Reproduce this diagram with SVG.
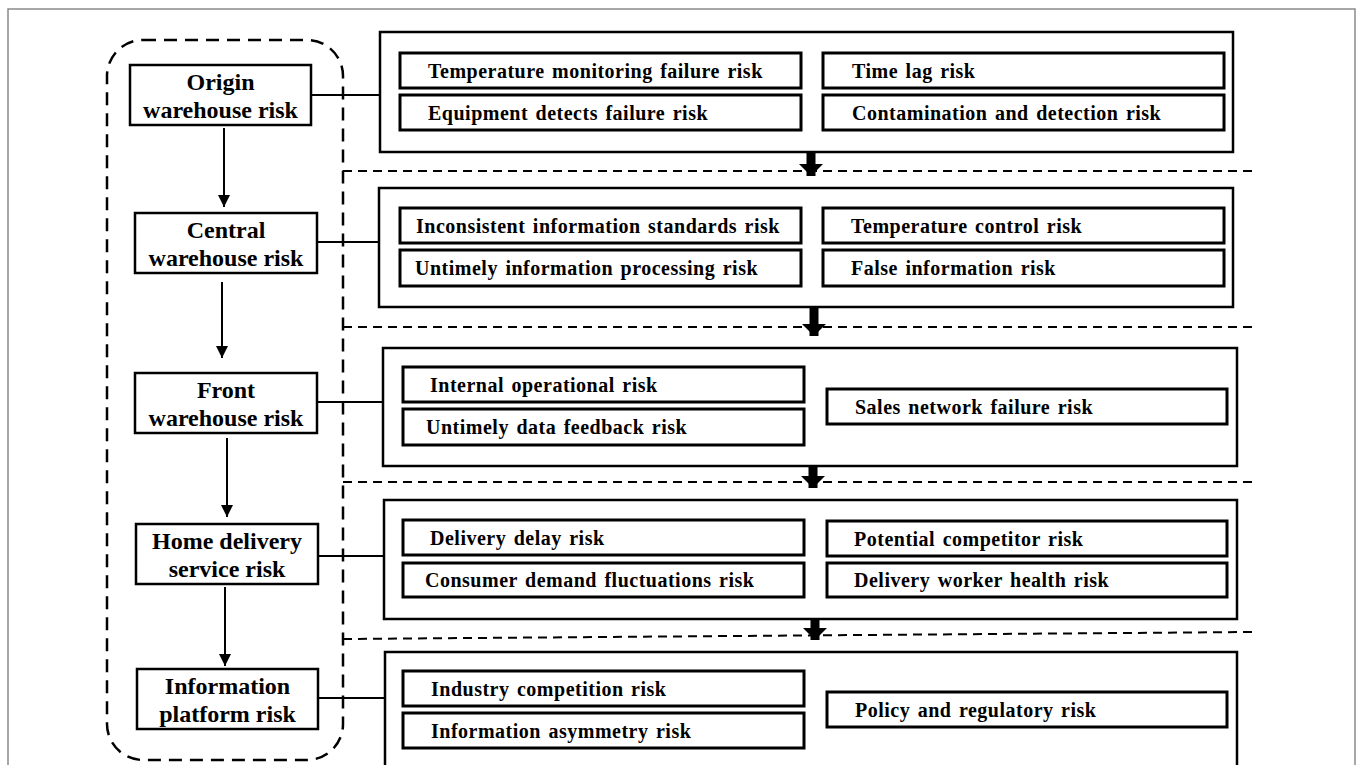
<svg xmlns="http://www.w3.org/2000/svg" width="1358" height="765" viewBox="0 0 1358 765">
<defs>
<style>
.frame{fill:none;stroke:#8a8a8a;stroke-width:1.5}
.node{fill:#fff;stroke:#000;stroke-width:2.5}
.panel{fill:#fff;stroke:#000;stroke-width:2.5}
.item{fill:#fff;stroke:#000;stroke-width:3}
.nt{font-family:"Liberation Serif","Times New Roman",serif;font-weight:bold;font-size:24px;text-anchor:middle;fill:#000}
.it{font-family:"Liberation Serif","Times New Roman",serif;font-weight:bold;font-size:20px;letter-spacing:0.5px;word-spacing:2px;fill:#000}
.line{fill:none;stroke:#000;stroke-width:2}
.dash{fill:none;stroke:#000;stroke-width:2;stroke-dasharray:9,6}
.group{fill:none;stroke:#000;stroke-width:2.5;stroke-dasharray:13,8}
.thick{fill:none;stroke:#000;stroke-width:9}
</style>
<marker id="ah" viewBox="0 0 12 12" refX="12" refY="6" markerWidth="12" markerHeight="12" markerUnits="userSpaceOnUse" orient="auto">
<path d="M0,0 L12,6 L0,12 Z" fill="#000"/>
</marker>
<marker id="big" viewBox="0 0 12 24" refX="12" refY="12" markerWidth="12" markerHeight="24" markerUnits="userSpaceOnUse" orient="auto">
<path d="M0,0 L12,12 L0,24 Z" fill="#000"/>
</marker>
</defs>
<rect x="0" y="0" width="1358" height="765" fill="#fff"/>
<path class="frame" d="M8,770 L8,9 L1355,9 L1355,770"/>

<rect id="group-outline" class="group" x="107" y="40" width="236" height="720" rx="36" ry="36"/>

<g id="connectors">
<line class="line" x1="224" y1="128" x2="224" y2="207" marker-end="url(#ah)"/>
<line class="line" x1="222" y1="282" x2="222" y2="358" marker-end="url(#ah)"/>
<line class="line" x1="227" y1="438" x2="227" y2="517" marker-end="url(#ah)"/>
<line class="line" x1="225" y1="587" x2="225" y2="666" marker-end="url(#ah)"/>
<line class="line" x1="311" y1="95" x2="380" y2="95"/>
<line class="line" x1="317" y1="242" x2="379" y2="242"/>
<line class="line" x1="317" y1="402" x2="383" y2="402"/>
<line class="line" x1="318" y1="556" x2="384" y2="556"/>
<line class="line" x1="318" y1="698" x2="385" y2="698"/>
<line class="dash" x1="343" y1="171" x2="1253" y2="171"/>
<line class="dash" x1="343" y1="327" x2="1253" y2="327"/>
<line class="dash" x1="343" y1="482" x2="1253" y2="482"/>
<line class="dash" x1="343" y1="639" x2="1253" y2="632"/>
<line class="thick" x1="811" y1="152" x2="811" y2="176" marker-end="url(#big)"/>
<line class="thick" x1="814" y1="307" x2="814" y2="336" marker-end="url(#big)"/>
<line class="thick" x1="813" y1="466" x2="813" y2="488" marker-end="url(#big)"/>
<line class="thick" x1="815" y1="619" x2="815" y2="640" marker-end="url(#big)"/>
</g>

<g id="node-origin">
<rect class="node" x="130" y="65" width="181" height="60"/>
<text class="nt" x="220.5" y="90">Origin</text>
<text class="nt" x="220.5" y="118">warehouse risk</text>
</g>
<g id="node-central">
<rect class="node" x="135" y="213" width="182" height="60"/>
<text class="nt" x="226" y="238">Central</text>
<text class="nt" x="226" y="266">warehouse risk</text>
</g>
<g id="node-front">
<rect class="node" x="135" y="373" width="182" height="60"/>
<text class="nt" x="226" y="398">Front</text>
<text class="nt" x="226" y="426">warehouse risk</text>
</g>
<g id="node-home">
<rect class="node" x="136" y="524" width="182" height="60"/>
<text class="nt" x="227" y="549">Home delivery</text>
<text class="nt" x="227" y="577">service risk</text>
</g>
<g id="node-info">
<rect class="node" x="137" y="669" width="181" height="60"/>
<text class="nt" x="227.5" y="694">Information</text>
<text class="nt" x="227.5" y="722">platform risk</text>
</g>

<g id="panel-origin">
<rect class="panel" x="380" y="32" width="853" height="120"/>
<rect class="item" x="400" y="53" width="401" height="35"/>
<text class="it" x="428" y="77.5">Temperature monitoring failure risk</text>
<rect class="item" x="400" y="95" width="401" height="35"/>
<text class="it" x="428" y="119.5">Equipment detects failure risk</text>
<rect class="item" x="823" y="53" width="401" height="35"/>
<text class="it" x="852" y="77.5">Time lag risk</text>
<rect class="item" x="823" y="95" width="401" height="35"/>
<text class="it" x="852" y="119.5">Contamination and detection risk</text>
</g>
<g id="panel-central">
<rect class="panel" x="379" y="188" width="854" height="119"/>
<rect class="item" x="400" y="208" width="401" height="35"/>
<text class="it" x="416" y="232.5">Inconsistent information standards risk</text>
<rect class="item" x="400" y="250" width="401" height="36"/>
<text class="it" x="415" y="275">Untimely information processing risk</text>
<rect class="item" x="823" y="208" width="401" height="35"/>
<text class="it" x="851" y="232.5">Temperature control risk</text>
<rect class="item" x="823" y="250" width="401" height="36"/>
<text class="it" x="851" y="275">False information risk</text>
</g>
<g id="panel-front">
<rect class="panel" x="383" y="348" width="854" height="118"/>
<rect class="item" x="403" y="367" width="401" height="35"/>
<text class="it" x="430" y="391.5">Internal operational risk</text>
<rect class="item" x="403" y="409" width="401" height="36"/>
<text class="it" x="426" y="434">Untimely data feedback risk</text>
<rect class="item" x="827" y="389" width="400" height="35"/>
<text class="it" x="855" y="413.5">Sales network failure risk</text>
</g>
<g id="panel-home">
<rect class="panel" x="384" y="500" width="853" height="119"/>
<rect class="item" x="403" y="520" width="401" height="35"/>
<text class="it" x="430" y="544.5">Delivery delay risk</text>
<rect class="item" x="403" y="563" width="401" height="34"/>
<text class="it" x="425" y="587">Consumer demand fluctuations risk</text>
<rect class="item" x="827" y="521" width="400" height="35"/>
<text class="it" x="854" y="545.5">Potential competitor risk</text>
<rect class="item" x="827" y="563" width="400" height="34"/>
<text class="it" x="854" y="587">Delivery worker health risk</text>
</g>
<g id="panel-info">
<rect class="panel" x="385" y="652" width="852" height="130"/>
<rect class="item" x="403" y="671" width="401" height="35"/>
<text class="it" x="431" y="695.5">Industry competition risk</text>
<rect class="item" x="403" y="713" width="401" height="35"/>
<text class="it" x="431" y="737.5">Information asymmetry risk</text>
<rect class="item" x="827" y="692" width="400" height="35"/>
<text class="it" x="855" y="716.5">Policy and regulatory risk</text>
</g>
</svg>
